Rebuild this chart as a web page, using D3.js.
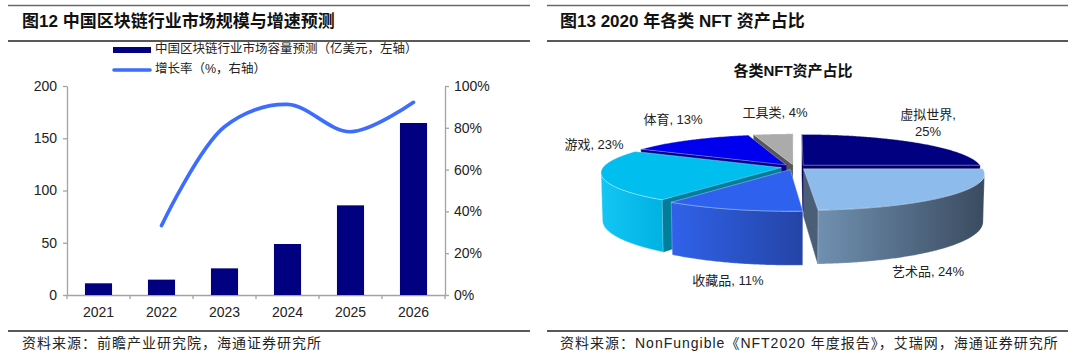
<!DOCTYPE html>
<html>
<head>
<meta charset="utf-8">
<script src="https://cdn.jsdelivr.net/npm/d3@7.9.0/dist/d3.min.js"></script>
<style>
  body { margin: 0; background: #fff; }
  svg { display: block; }
</style>
</head>
<body>
<svg id="viz" width="1080" height="362"></svg>
<script>
// ---- data: left chart ----
const years = ["2021", "2022", "2023", "2024", "2025", "2026"];
const marketSize = [11.2, 14.7, 25.5, 48.8, 85.8, 164.6];     // 亿美元, left axis
const growthRate = [null, 33.2, 80.5, 91.2, 78.1, 92.2];       // %, right axis
const leftTicks = [0, 50, 100, 150, 200];
const rightTicks = [0, 20, 40, 60, 80, 100];
const barLegend = "中国区块链行业市场容量预测（亿美元，左轴）";
const lineLegend = "增长率（%，右轴）";

// ---- data: right chart ----
const nftCategories = ["虚拟世界", "艺术品", "收藏品", "游戏", "体育", "工具类"];
const nftShares = [25, 24, 11, 23, 13, 4];

const FONT = "'Liberation Sans', 'Noto Sans CJK SC', sans-serif";
const svg = d3.select("#viz");
svg.append("rect").attr("width", 1080).attr("height", 362).attr("fill", "#fff");

// panel frames (rules, titles, sources)
function panelFrame(x0, x1, title, source, titleX) {
  svg.append("line").attr("x1", x0).attr("x2", x1).attr("y1", 5.5).attr("y2", 5.5)
    .attr("stroke", "#6a6a6a").attr("stroke-width", 1.6);
  svg.append("line").attr("x1", x0).attr("x2", x1).attr("y1", 41).attr("y2", 41)
    .attr("stroke", "#222").attr("stroke-width", 1.4);
  svg.append("line").attr("x1", x0).attr("x2", x1).attr("y1", 331).attr("y2", 331)
    .attr("stroke", "#222").attr("stroke-width", 1.4);
  svg.append("text").attr("x", titleX).attr("y", 23).attr("dominant-baseline", "middle")
    .attr("font-family", FONT).attr("font-size", 17).attr("font-weight", "bold")
    .attr("fill", "#111").text(title);
  svg.append("text").attr("x", titleX).attr("y", 344).attr("dominant-baseline", "middle")
    .attr("font-family", FONT).attr("font-size", 14).attr("letter-spacing", 1)
    .attr("fill", "#222").text(source);
}
panelFrame(8, 530, "图12 中国区块链行业市场规模与增速预测", "资料来源：前瞻产业研究院，海通证券研究所", 22);
panelFrame(547, 1068, "图13 2020 年各类 NFT 资产占比", "资料来源：NonFungible《NFT2020 年度报告》，艾瑞网，海通证券研究所", 560);

// ================= left: bar + line =================
const plotL = 67, plotR = 445, plotT = 86, plotB = 295;
const x = d3.scaleBand().domain(years).range([plotL, plotR]).paddingInner(0.57).paddingOuter(0.285);
const yL = d3.scaleLinear().domain([0, 200]).range([plotB, plotT]);
const yR = d3.scaleLinear().domain([0, 100]).range([plotB, plotT]);
const axisColor = "#a3a3a3";

const left = svg.append("g");

const gyl = left.append("g").attr("transform", `translate(${plotL},0)`)
  .call(d3.axisLeft(yL).tickValues(leftTicks).tickSize(4).tickSizeOuter(0).tickPadding(6));
const gyr = left.append("g").attr("transform", `translate(${plotR},0)`)
  .call(d3.axisRight(yR).tickValues(rightTicks).tickFormat(d => d + "%").tickSize(4).tickSizeOuter(0).tickPadding(5));
const gx = left.append("g").attr("transform", `translate(0,${plotB})`)
  .call(d3.axisBottom(x).tickSize(0).tickPadding(12));

[gyl, gyr, gx].forEach(g => {
  g.selectAll("path, line").attr("stroke", axisColor).attr("stroke-width", 1.3);
  g.selectAll("text").attr("font-family", FONT).attr("font-size", 14).attr("fill", "#222");
});

// category boundary ticks on x axis
const bounds = years.map(d => x(d) - x.step() * x.paddingInner() / 2)
  .concat([x(years[years.length - 1]) + x.bandwidth() + x.step() * x.paddingInner() / 2]);
left.append("g").selectAll("line").data(bounds).join("line")
  .attr("x1", d => d).attr("x2", d => d).attr("y1", plotB).attr("y2", plotB + 4)
  .attr("stroke", axisColor).attr("stroke-width", 1.3);

// bars
left.append("g").selectAll("rect").data(years).join("rect")
  .attr("x", d => x(d))
  .attr("y", (d, i) => yL(marketSize[i]))
  .attr("width", x.bandwidth())
  .attr("height", (d, i) => plotB - yL(marketSize[i]))
  .attr("fill", "#000080");

// growth line
const lineGen = d3.line()
  .defined(d => d.v != null)
  .x(d => x(d.year) + x.bandwidth() / 2)
  .y(d => yR(d.v))
  .curve(d3.curveCatmullRom.alpha(0.5));
left.append("path")
  .datum(years.map((year, i) => ({ year, v: growthRate[i] })).filter(d => d.v != null))
  .attr("d", lineGen)
  .attr("fill", "none").attr("stroke", "#3d6dff").attr("stroke-width", 3.6)
  .attr("stroke-linecap", "round").attr("stroke-linejoin", "round");

// legend
const lg = left.append("g").attr("font-family", FONT).attr("font-size", 12.5).attr("fill", "#222");
lg.append("rect").attr("x", 113).attr("y", 47).attr("width", 38).attr("height", 6).attr("fill", "#000080");
lg.append("text").attr("x", 155).attr("y", 50).attr("dominant-baseline", "middle").text(barLegend);
lg.append("line").attr("x1", 114).attr("x2", 150).attr("y1", 70).attr("y2", 70)
  .attr("stroke", "#3d6dff").attr("stroke-width", 3.6).attr("stroke-linecap", "round");
lg.append("text").attr("x", 155).attr("y", 70).attr("dominant-baseline", "middle").text(lineLegend);

// ================= right: 3D exploded pie =================
svg.append("text").attr("x", 793).attr("y", 72).attr("text-anchor", "middle")
  .attr("dominant-baseline", "middle").attr("font-family", FONT).attr("font-size", 15)
  .attr("font-weight", "bold").attr("fill", "#111").text("各类NFT资产占比");

const pieR = 178, pieDepth = 48, tilt = 0.2, camD = 1300, pcx = 794, pcy = 167, explode = 13;
const ce = Math.cos(tilt), se = Math.sin(tilt);
function proj(px, py, pz) {
  const up = py * ce - pz * se;
  const depth = pz * ce + py * se;
  const s = camD / (camD - depth);
  return [pcx + px * s, pcy - up * s];
}

const sliceStyle = [
  { top: "#000080", radial: "#00005e", wallL: "#00006e", wallR: "#00005a" },
  { top: "#8dbcec", radial: "#4a5e78", wallL: "#7090b0", wallR: "#3a4b60" },
  { top: "#2e62ee", radial: "#2a4fc8", wallL: "#3062ea", wallR: "#2444a6" },
  { top: "#00bfef", radial: "#007e9c", wallL: "#14c6f4", wallR: "#00b2e2" },
  { top: "#0000ee", radial: "#00008c", wallL: "#0000b0", wallR: "#0000a0" },
  { top: "#ababab", radial: "#575757", wallL: "#7a7a7a", wallR: "#666" }
];

const arcs = d3.pie().sort(null).value(d => d)(nftShares);
const defs = svg.append("defs");
const pieG = svg.append("g");

const slices = arcs.map((a, i) => {
  const a0 = a.startAngle, a1 = a.endAngle, am = (a0 + a1) / 2;
  const ox = explode * Math.sin(am), oz = -explode * Math.cos(am);
  return { i, a0, a1, am, ox, oz, depth: oz - pieR * 0.6 * Math.cos(am) };
}).sort((p, q) => p.depth - q.depth);

const poly = pts => "M" + pts.map(p => p.join(",")).join("L") + "Z";

slices.forEach(sl => {
  const st = sliceStyle[sl.i];
  const { a0, a1, ox, oz } = sl;
  const rim = (a, py) => proj(ox + pieR * Math.sin(a), py, oz - pieR * Math.cos(a));
  const apex = py => proj(ox, py, oz);
  const g = pieG.append("g");

  // radial walls
  const startVis = ox * Math.cos(a0) - (camD * ce - oz) * Math.sin(a0) > 0;
  const endVis = -ox * Math.cos(a1) + (camD * ce - oz) * Math.sin(a1) > 0;
  [[a0, startVis], [a1, endVis]].forEach(([a, vis]) => {
    if (!vis) return;
    g.append("path").attr("d", poly([apex(0), rim(a, 0), rim(a, -pieDepth), apex(-pieDepth)]))
      .attr("fill", st.radial).attr("stroke", st.radial).attr("stroke-width", 0.5);
  });

  // outer wall: collect visible runs
  const n = Math.max(6, Math.ceil((a1 - a0) / 0.01));
  const angs = d3.range(n + 1).map(k => a0 + (a1 - a0) * k / n);
  const visible = a => -pieR - ox * Math.sin(a) - camD * ce * Math.cos(a) + oz * Math.cos(a) > 0;
  let runs = [], cur = null;
  for (let k = 0; k < n; k++) {
    const v = visible((angs[k] + angs[k + 1]) / 2);
    if (v) { if (!cur) { cur = [angs[k]]; runs.push(cur); } cur.push(angs[k + 1]); }
    else cur = null;
  }
  runs.forEach((run, ri) => {
    const topPts = run.map(a => rim(a, 0));
    const botPts = run.slice().reverse().map(a => rim(a, -pieDepth));
    const all = topPts.concat(botPts);
    const xs = d3.extent(all, p => p[0]);
    const gid = `wall${sl.i}_${ri}`;
    const grad = defs.append("linearGradient").attr("id", gid)
      .attr("gradientUnits", "userSpaceOnUse")
      .attr("x1", xs[0]).attr("x2", xs[1]).attr("y1", 0).attr("y2", 0);
    grad.append("stop").attr("offset", 0).attr("stop-color", st.wallL);
    grad.append("stop").attr("offset", 1).attr("stop-color", st.wallR);
    g.append("path").attr("d", poly(all)).attr("fill", `url(#${gid})`)
      .attr("stroke", "rgba(255,255,255,0.35)").attr("stroke-width", 0.8);
  });

  // top face
  const topFace = [apex(0)].concat(angs.map(a => rim(a, 0)));
  g.append("path").attr("d", poly(topFace)).attr("fill", st.top)
    .attr("stroke", "rgba(255,255,255,0.4)").attr("stroke-width", 0.8).attr("stroke-linejoin", "round");
});

// slice labels (manually placed, as in the source)
const pieLabelPos = [[928, 116, true], [928, 273, false], [728, 282, false], [594, 146, false], [673, 121, false], [775, 114, false]];
const pl = svg.append("g").attr("font-family", FONT).attr("font-size", 13).attr("fill", "#222")
  .attr("text-anchor", "middle");
nftCategories.forEach((cat, i) => {
  const [lx, ly, wrap] = pieLabelPos[i];
  if (wrap) {
    pl.append("text").attr("x", lx).attr("y", ly).attr("dominant-baseline", "middle").text(cat + ",");
    pl.append("text").attr("x", lx).attr("y", ly + 17).attr("dominant-baseline", "middle").text(nftShares[i] + "%");
  } else {
    pl.append("text").attr("x", lx).attr("y", ly).attr("dominant-baseline", "middle")
      .text(`${cat}, ${nftShares[i]}%`);
  }
});
</script>
</body>
</html>
